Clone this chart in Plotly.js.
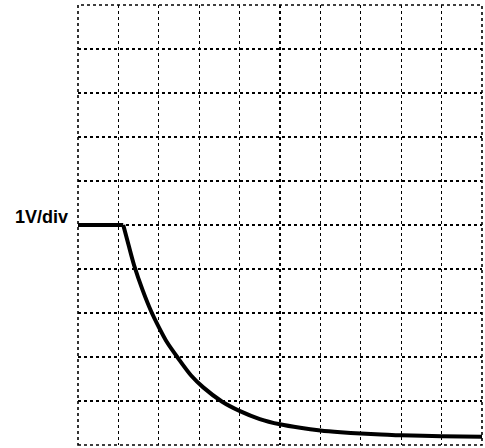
<!DOCTYPE html>
<html>
<head>
<meta charset="utf-8">
<script src="https://cdn.plot.ly/plotly-3.0.1.min.js"></script>
<style>html,body{margin:0;padding:0;background:#fff;}#chart{width:485px;height:448px;}</style>
</head>
<body>
<div id="chart"></div>
<script>
// time in divisions, voltage in volts (1 V/div)
var flatTime  = [0, 1.12];
var flatVolts = [5, 5];
var decayTime  = [1.12, 1.25, 1.39, 1.6, 1.81, 2.0, 2.2, 2.48, 2.8, 3.1, 3.56, 4.01, 4.5, 5.0, 5.5, 6.0, 6.5, 7.0, 7.5, 8.0, 9.0, 10];
var decayVolts = [5, 4.55, 4.08, 3.52, 3.04, 2.68, 2.34, 1.97, 1.58, 1.31, 0.99, 0.77, 0.59, 0.47, 0.39, 0.33, 0.29, 0.26, 0.24, 0.22, 0.2, 0.19];
var gridTicks = [0,1,2,3,4,5,6,7,8,9,10];
var voltLabel = "1V/div";

var lineStyle = {color: '#000', width: 4};
var traces = [
  {x: flatTime, y: flatVolts, type: 'scatter', mode: 'lines',
   line: Object.assign({shape: 'linear'}, lineStyle), hoverinfo: 'skip', showlegend: false},
  {x: decayTime, y: decayVolts, type: 'scatter', mode: 'lines',
   line: Object.assign({shape: 'spline', smoothing: 0.8}, lineStyle), hoverinfo: 'skip', showlegend: false}
];
var axisBase = {
  range: [0, 10], tickvals: gridTicks, showticklabels: false,
  showgrid: true, gridcolor: '#000', gridwidth: 1.3, griddash: 'dot',
  zeroline: false, showline: false, ticks: '', fixedrange: true
};
var layout = {
  width: 485, height: 448,
  margin: {l: 78, r: 3, t: 5, b: 3},
  paper_bgcolor: '#fff', plot_bgcolor: '#fff',
  xaxis: Object.assign({}, axisBase),
  yaxis: Object.assign({}, axisBase),
  font: {family: 'Liberation Sans, Arial, sans-serif', color: '#000'},
  shapes: [{
    type: 'rect', xref: 'paper', yref: 'paper', x0: 0, x1: 1, y0: 0, y1: 1,
    line: {color: '#000', width: 1.6, dash: 'dot'}, layer: 'below'
  }],
  annotations: [{
    text: '<b>' + voltLabel + '</b>', xref: 'paper', x: 0, yref: 'y', y: 5,
    xanchor: 'right', yanchor: 'middle', xshift: -8, yshift: 8,
    showarrow: false, font: {size: 18, color: '#000'}
  }]
};
Plotly.newPlot('chart', traces, layout, {staticPlot: true, displayModeBar: false});
</script>
</body>
</html>
